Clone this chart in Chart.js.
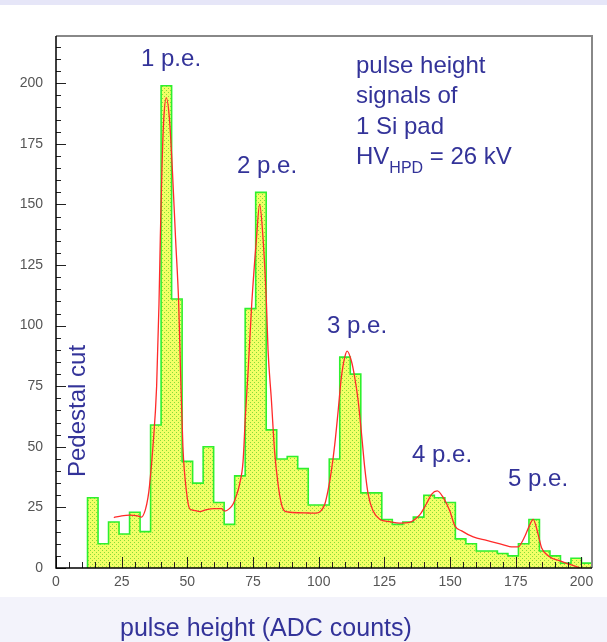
<!DOCTYPE html>
<html>
<head>
<meta charset="utf-8">
<script src="https://cdn.jsdelivr.net/npm/chart.js@4.4.1/dist/chart.umd.min.js"></script>
<style>
  html, body { margin: 0; padding: 0; background: #fff; }
  #wrap { position: relative; width: 607px; height: 642px; overflow: hidden;
          font-family: "Liberation Sans", Arial, sans-serif; color: #333399; }
  .band-top { position: absolute; left: 0; top: 0; width: 607px; height: 5px; background: #e6e6f8; }
  .band-bot { position: absolute; left: 0; top: 597px; width: 607px; height: 45px; background: #f3f3fb; }
  canvas { position: absolute; left: 0; top: 0; }
  .lbl { position: absolute; font-size: 24px; line-height: 24px; white-space: nowrap; }
  .sub { font-size: 16px; position: relative; top: 9px; }
  #ped { left: 12px; top: 400px; width: 130px; text-align: center; transform: rotate(-90deg); }
  #xtitle { left: 120px; top: 615px; font-size: 25px; line-height: 25px; }
</style>
</head>
<body>
<div id="wrap">
  <div class="band-top"></div>
  <div class="band-bot"></div>
  <canvas id="c" width="607" height="642"></canvas>
  <div class="lbl" style="left:141px;top:46px">1 p.e.</div>
  <div class="lbl" style="left:237px;top:153px">2 p.e.</div>
  <div class="lbl" style="left:327px;top:313px">3 p.e.</div>
  <div class="lbl" style="left:412px;top:442px">4 p.e.</div>
  <div class="lbl" style="left:508px;top:466px">5 p.e.</div>
  <div class="lbl" style="left:356px;top:53px">pulse height</div>
  <div class="lbl" style="left:356px;top:83px">signals of</div>
  <div class="lbl" style="left:356px;top:114px">1 Si pad</div>
  <div class="lbl" style="left:356px;top:144px">HV<span class="sub">HPD</span> = 26 kV</div>
  <div class="lbl" id="ped">Pedestal cut</div>
  <div class="lbl" id="xtitle">pulse height (ADC counts)</div>
</div>
<script>
// histogram: left edge of each 4-count bin and its entries
const binLo = [12,16,20,24,28,32,36,40,44,48,52,56,60,64,68,72,76,80,84,88,92,96,100,104,
               108,112,116,120,124,128,132,136,140,144,148,152,156,160,164,168,172,176,180,184,188,192,196,200];
const counts = [29,10,19,14,23,15,59,199,111,44,35,50,27,18,38,107,155,57,45,46,41,26,26,45,
                87,80,31,31,20,18,19,21,30,29,27,12,10,7,7,6,5,10,20,7,5,2,4,2];
const binHi = 204;

// fit curve
const fitX = [22,25,28,31,32.5,34,35,35.6,36.9,38.3,39.2,39.7,40.3,41,42,43.2,44.3,45.5,46.7,47.4,48.3,49.6,50.9,52.5,54.7,57,60,63,64.2,66,67.4,69,69.9,71.2,72.1,73.1,74.5,76.3,77.5,78.8,80.1,80.7,82,83.2,84.5,85.8,87,88.3,92,96,99.1,101,102.3,103.5,104.8,106.1,107.4,108.6,109.9,110.8,112.4,113.7,115,116.3,117.5,118.8,120.7,123.2,127,130.9,134.7,136.5,138.5,141,143,145.1,147.4,149.9,151.8,154.4,158.8,163.9,169,174,175.9,177,178.5,180.4,181.6,183.5,184.8,187.4,191.8,195.6,199.4];
const fitY = [20.8,21.5,21.8,21.5,21,24,29,34,50,75,109,136,164,185,194,185,164,136,109,81,50,32,24.4,23.8,23.3,24,24.5,24.5,23.5,24.5,26.4,31,34.7,44,63,81,109,136,150,136,109,90,69,48,34.7,26.4,23.5,23.1,22.8,22.7,22.6,23.8,26.3,31.8,40,51,65,78.6,87,89.5,85.5,78.6,69,55.2,41.4,30.5,23.5,20.1,19.1,18.5,18.8,20,22,26.5,30.5,31.8,29,23.5,17.4,15.3,12.8,11.4,10,8.7,8.7,10,13.2,18,20.1,13.9,8.4,5,2.9,1.5,0.1];

const xTicks = [0,25,50,75,100,125,150,175,200];
const yTicks = [0,25,50,75,100,125,150,175,200];
const xMax = 204, yMax = 219.5;

// yellow fill with green dots
function dotPattern() {
  const t = document.createElement('canvas');
  t.width = 4; t.height = 4;
  const g = t.getContext('2d');
  g.fillStyle = '#f2ff66'; g.fillRect(0, 0, 4, 4);
  g.fillStyle = '#86dc3a';
  g.fillRect(0, 0, 1, 1); g.fillRect(2, 2, 1, 1);
  return g.createPattern(t, 'repeat');
}

const histPts = [{x: binLo[0], y: 0}]
  .concat(binLo.map((b, i) => ({x: b, y: counts[i]})))
  .concat([{x: binHi, y: counts[counts.length - 1]}, {x: binHi, y: 0}]);
const fitPts = fitX.map((x, i) => ({x, y: fitY[i]}));

// inside ticks + frame, ROOT style
const frameTicks = {
  id: 'frameTicks',
  afterDatasetsDraw(chart) {
    const {ctx, chartArea: a, scales: {x, y}} = chart;
    ctx.save();
    ctx.strokeStyle = '#222'; ctx.lineWidth = 1;
    ctx.beginPath();
    for (let v = 0; v <= yMax; v += 5) {
      const py = Math.round(y.getPixelForValue(v)) + 0.5;
      const len = v % 25 === 0 ? 10 : 5;
      ctx.moveTo(a.left, py); ctx.lineTo(a.left + len, py);
    }
    for (let v = 0; v <= xMax; v += 5) {
      const px = Math.round(x.getPixelForValue(v)) + 0.5;
      const len = v % 25 === 0 ? 11 : 6;
      ctx.moveTo(px, a.bottom); ctx.lineTo(px, a.bottom - len);
    }
    ctx.stroke();
    ctx.lineWidth = 2; ctx.strokeStyle = '#888';
    ctx.beginPath();
    ctx.moveTo(a.left, a.top); ctx.lineTo(a.right, a.top); ctx.lineTo(a.right, a.bottom);
    ctx.stroke();
    ctx.lineWidth = 1.5; ctx.strokeStyle = '#000';
    ctx.beginPath();
    ctx.moveTo(a.left, a.top); ctx.lineTo(a.left, a.bottom); ctx.lineTo(a.right, a.bottom);
    ctx.stroke();
    ctx.restore();
  }
};

const tickFont = {family: '"Liberation Sans", Arial, sans-serif', size: 14};

new Chart(document.getElementById('c'), {
  type: 'line',
  data: {
    datasets: [
      { label: 'fit', data: fitPts, order: 0, borderColor: '#ff2a2a', borderWidth: 1.3,
        pointRadius: 0, cubicInterpolationMode: 'monotone', fill: false },
      { label: 'pulse height', data: histPts, order: 1, stepped: 'before',
        borderColor: '#2ef02e', borderWidth: 1.6, backgroundColor: dotPattern(),
        pointRadius: 0, fill: 'origin' }
    ]
  },
  options: {
    responsive: false,
    animation: false,
    events: [],
    layout: { padding: { left: 0, top: 36, right: 15, bottom: 44 } },
    plugins: { legend: { display: false }, tooltip: { enabled: false } },
    scales: {
      x: {
        type: 'linear', min: 0, max: xMax,
        afterBuildTicks: s => { s.ticks = xTicks.map(v => ({value: v})); },
        afterFit: s => { s.height = 30; },
        grid: { display: false, drawTicks: false },
        border: { display: false },
        ticks: { padding: 6, color: '#555', font: tickFont, maxRotation: 0, autoSkip: false }
      },
      y: {
        type: 'linear', min: 0, max: yMax,
        afterBuildTicks: s => { s.ticks = yTicks.map(v => ({value: v})); },
        afterFit: s => { s.width = 56; },
        grid: { display: false, drawTicks: false },
        border: { display: false },
        ticks: { padding: 13, color: '#555', font: tickFont }
      }
    }
  },
  plugins: [frameTicks]
});
</script>
</body>
</html>
